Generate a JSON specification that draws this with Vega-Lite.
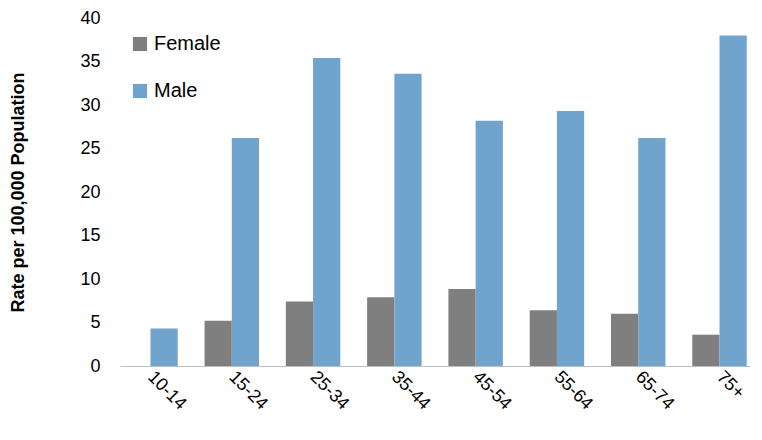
{
"$schema":"https://vega.github.io/schema/vega-lite/v6.json",
"autosize":"none","width":630,"height":348,
"padding":{"left":120,"top":18,"right":12,"bottom":74},
"config":{"font":"Liberation Sans","view":{"stroke":null}},
"data":{"values":[
{"age":"10-14","sex":"Female","rate":0},{"age":"10-14","sex":"Male","rate":4.3},
{"age":"15-24","sex":"Female","rate":5.2},{"age":"15-24","sex":"Male","rate":26.2},
{"age":"25-34","sex":"Female","rate":7.4},{"age":"25-34","sex":"Male","rate":35.4},
{"age":"35-44","sex":"Female","rate":7.9},{"age":"35-44","sex":"Male","rate":33.6},
{"age":"45-54","sex":"Female","rate":8.85},{"age":"45-54","sex":"Male","rate":28.2},
{"age":"55-64","sex":"Female","rate":6.4},{"age":"55-64","sex":"Male","rate":29.3},
{"age":"65-74","sex":"Female","rate":6.0},{"age":"65-74","sex":"Male","rate":26.2},
{"age":"75+","sex":"Female","rate":3.6},{"age":"75+","sex":"Male","rate":38.0}
]},
"mark":{"type":"bar"},
"encoding":{
"x":{"field":"age","type":"nominal","scale":{"paddingInner":0.33,"paddingOuter":0.04},"axis":{"title":null,"labelAngle":45,"labelAlign":"left","labelBaseline":"middle","labelFontSize":18,"labelColor":"#000","domainColor":"#bfbfbf","ticks":false,"labelPadding":8}},
"xOffset":{"field":"sex","type":"nominal","scale":{"paddingInner":0}},
"y":{"field":"rate","type":"quantitative","scale":{"domain":[0,40]},"axis":{"title":"Rate per 100,000 Population","titleFontSize":18,"titleFontWeight":"bold","titleColor":"#000","titlePadding":52,"labelFontSize":18,"labelColor":"#000","domain":false,"ticks":false,"grid":false,"tickCount":8,"labelPadding":20}},
"color":{"field":"sex","type":"nominal","scale":{"domain":["Female","Male"],"range":["#7f7f7f","#70a4cd"]},"legend":{"title":null,"orient":"none","legendX":10,"legendY":16,"symbolType":"square","symbolSize":200,"labelFontSize":20,"labelColor":"#000","rowPadding":27,"labelOffset":4}}
}
}
